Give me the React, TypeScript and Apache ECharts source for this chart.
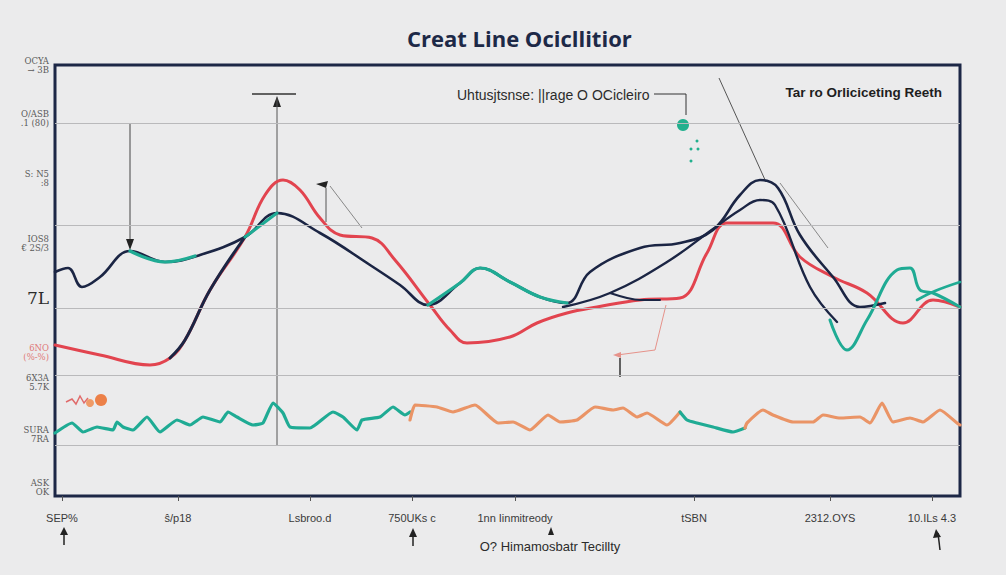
import React, { useEffect, useRef } from "react";
import * as echarts from "echarts";

const TITLE = "Creat Line Ocicllitior";
const ANNOT_LEFT = "Uhtusjtsnse: ||rage O OCicleiro";
const ANNOT_RIGHT = "Tar ro Orliciceting Reeth";
const X_TITLE = "O? Himamosbatr Tecillty";

const xTickValues = [7, 123, 255, 357, 460, 639, 775, 877];
const xTickLabels = ["SEP%", "ŝ/p18", "Lsbroo.d", "750UKs c", "1nn Iinmitreody", "tSBN", "2312.OYS", "10.ILs 4.3"];
const yTickValues = [431, 378, 318, 253, 198, 144, 114, 62, 9];
const yTickLabels = ["OCYA\n→ 3B", "O/ASB\n.1 (80)", "S: N5\n:8", "IOS8\n€ 2S/3", "7L", "6NO\n(%-%)", "6X3A\n5.7K", "SURA\n7RA", "ASK\nOK"];
const gridLevels = [373, 271, 188, 121, 51];

// main navy signal line
const navyA = [
  [0, 224], [13, 228], [27, 209], [45, 219], [75, 245], [110, 234], [145, 241], [190, 259], [222, 283],
  [265, 263], [315, 231], [345, 211], [373, 191], [405, 213], [425, 228], [455, 214], [485, 199], [512, 193],
  [535, 224], [585, 248], [625, 253], [658, 266], [685, 301], [705, 316], [723, 308], [745, 261], [778, 219],
  [805, 189], [830, 193],
];
// teal segments overlaying the navy line
const tealSeg1 = [[75, 245], [110, 234], [140, 240]];
const tealSeg2 = [[190, 259], [222, 283]];
const tealSeg3 = [[373, 191], [405, 213], [425, 228], [455, 214], [485, 199], [512, 193]];
// red trigger line
const redLine = [
  [0, 151], [45, 141], [95, 131], [115, 138], [130, 156], [155, 206], [190, 259], [210, 301], [228, 316],
  [245, 306], [265, 278], [285, 261], [317, 258], [340, 236], [375, 191], [395, 166], [412, 153], [455, 159],
  [482, 173], [512, 183], [542, 189], [585, 196], [625, 198], [652, 243], [672, 273], [718, 273], [745, 239],
  [778, 219], [812, 203], [848, 173], [878, 196], [905, 189],
];
// navy overlay on the red rising part
const navyOnRed = [[115, 138], [130, 156], [155, 206], [190, 259]];
// second navy line (right)
const navyB = [[508, 189], [555, 203], [612, 234], [658, 267], [685, 286], [705, 296], [720, 291], [755, 209], [782, 174]];
const navyFlat = [[555, 203], [585, 196], [605, 196]];
// teal right swing
const tealRight = [[775, 176], [792, 146], [812, 176], [842, 226], [855, 228], [865, 206], [878, 203], [905, 189]];
const tealRight2 = [[862, 196], [880, 205], [905, 214]];

// bottom oscillator
const oscTeal1 = [
  [0, 63], [17, 73], [28, 64], [42, 69], [58, 66], [62, 74], [68, 69], [78, 66], [92, 79], [105, 64], [122, 76],
  [135, 71], [148, 79], [165, 74], [173, 84], [182, 79], [198, 71], [208, 73], [218, 93], [228, 83], [235, 69],
  [255, 68], [278, 84], [288, 79], [302, 66], [307, 76], [325, 79], [338, 89], [350, 81], [355, 84],
];
const oscOrange1 = [
  [355, 76], [360, 91], [382, 89], [398, 84], [420, 91], [443, 73], [458, 74], [475, 66], [493, 81], [505, 74],
  [522, 76], [540, 89], [558, 86], [568, 88], [582, 79], [592, 83], [612, 71], [625, 84],
];
const oscTeal2 = [[625, 84], [632, 76], [642, 73], [658, 69], [678, 64], [690, 68]];
const oscOrange2 = [
  [690, 68], [692, 73], [708, 86], [718, 81], [738, 74], [758, 74], [768, 81], [785, 78], [805, 79], [815, 73],
  [827, 93], [838, 74], [855, 78], [868, 74], [885, 86], [902, 73], [905, 71],
];

const NAVY = "#1b2544";
const RED = "#e2444f";
const TEAL = "#1fab94";
const ORANGE = "#ea9466";

function line(name: string, data: number[][], color: string, width = 3, smooth: number | boolean = 0.4, z = 2) {
  return {
    name,
    type: "line",
    data,
    showSymbol: false,
    smooth,
    z,
    lineStyle: { color, width, cap: "round", join: "round" },
    itemStyle: { color },
    silent: true,
  };
}

export default function App() {
  const ref = useRef<HTMLDivElement>(null);
  useEffect(() => {
    if (!ref.current) return;
    const chart = echarts.init(ref.current, undefined, { renderer: "svg" });
    const gridSeries: any = line("grid", [], "#bbb", 1);
    gridSeries.markLine = {
      silent: true,
      symbol: "none",
      label: { show: false },
      lineStyle: { color: "#b9b9bb", width: 1, type: "solid" },
      data: gridLevels.map((v) => ({ yAxis: v })),
    };
    gridSeries.z = 1;
    const tiny = { fontSize: 8.5, color: "#5a5a5a", fontFamily: "DejaVu Serif", lineHeight: 9 };
    chart.setOption({
      animation: false,
      backgroundColor: "#ebebec",
      title: {
        text: TITLE,
        left: 402,
        top: 22,
        textStyle: { fontSize: 22, fontWeight: "bold", color: "#1d2947", fontFamily: "Open Sans" },
      },
      grid: {
        left: 55,
        right: 46,
        top: 65,
        bottom: 79,
        show: true,
        borderColor: "#1c2746",
        borderWidth: 3,
        backgroundColor: "transparent",
      },
      xAxis: {
        type: "value",
        min: 0,
        max: 905,
        splitLine: { show: false },
        axisLine: { show: false },
        axisTick: { show: true, customValues: xTickValues, length: 5, lineStyle: { color: "#555" } },
        axisLabel: {
          customValues: xTickValues,
          margin: 16,
          color: "#3a3a3a",
          fontSize: 11,
          fontFamily: "Liberation Sans",
          formatter: (v: number) => xTickLabels[xTickValues.indexOf(v)] ?? "",
        },
      },
      yAxis: {
        type: "value",
        min: 0,
        max: 431,
        splitLine: { show: false },
        axisLine: { show: false },
        axisTick: { show: false },
        axisLabel: {
          customValues: yTickValues,
          margin: 6,
          formatter: (v: number) => {
            const i = yTickValues.indexOf(v);
            const t = yTickLabels[i] ?? "";
            if (t === "7L") return "{big|7L}";
            if (i === 5) return t.split("\n").map((s) => "{red|" + s + "}").join("\n");
            return t.split("\n").map((s) => "{sm|" + s + "}").join("\n");
          },
          rich: {
            sm: tiny,
            red: { ...tiny, color: "#e07a78" },
            big: { fontSize: 17, color: "#2a2a2a", fontFamily: "DejaVu Serif" },
          },
        },
      },
      series: [
        gridSeries,
        line("Trigger", redLine, RED, 3, 0.4, 2),
        line("Signal", navyA, NAVY, 2.6, 0.4, 3),
        line("SignalB", navyB, NAVY, 2.4, 0.4, 3),
        line("SignalFlat", navyFlat, NAVY, 2, 0.3, 3),
        line("NavyOnRed", navyOnRed, NAVY, 3, 0.4, 4),
        line("Teal1", tealSeg1, TEAL, 3.2, 0.4, 4),
        line("Teal2", tealSeg2, TEAL, 3, 0.4, 4),
        line("Teal3", tealSeg3, TEAL, 3.2, 0.4, 4),
        line("TealRight", tealRight, TEAL, 3, 0.4, 4),
        line("TealRight2", tealRight2, TEAL, 2.6, 0.4, 4),
        line("OscTeal1", oscTeal1, TEAL, 3.2, 0.15, 3),
        line("OscOrange1", oscOrange1, ORANGE, 3.2, 0.15, 3),
        line("OscTeal2", oscTeal2, TEAL, 3.2, 0.15, 3),
        line("OscOrange2", oscOrange2, ORANGE, 3.2, 0.15, 3),
      ],
      graphic: [
        // vertical pointer with T-bar
        { type: "line", shape: { x1: 277, y1: 98, x2: 277, y2: 445 }, style: { stroke: "#555", lineWidth: 1 }, z: 1 },
        { type: "line", shape: { x1: 252, y1: 94, x2: 296, y2: 94 }, style: { stroke: "#333", lineWidth: 1.5 } },
        { type: "polygon", shape: { points: [[277, 96], [273, 107], [281, 107]] }, style: { fill: "#222" } },
        // down arrow at left
        { type: "line", shape: { x1: 130, y1: 123, x2: 130, y2: 242 }, style: { stroke: "#444", lineWidth: 1 } },
        { type: "polygon", shape: { points: [[130, 250], [126, 239], [134, 239]] }, style: { fill: "#222" } },
        // annotations
        {
          type: "text",
          x: 457,
          y: 95,
          style: { text: ANNOT_LEFT, fill: "#2b2b2b", font: "14px 'Liberation Sans'", textVerticalAlign: "middle", verticalAlign: "middle" },
        },
        { type: "line", shape: { x1: 654, y1: 94, x2: 686, y2: 94 }, style: { stroke: "#333", lineWidth: 1 } },
        { type: "line", shape: { x1: 686, y1: 94, x2: 686, y2: 115 }, style: { stroke: "#333", lineWidth: 1 } },
        { type: "circle", shape: { cx: 683, cy: 125, r: 6 }, style: { fill: "#22b08e" } },
        { type: "circle", shape: { cx: 697, cy: 141, r: 1.5 }, style: { fill: "#22b08e" } },
        { type: "circle", shape: { cx: 691, cy: 149, r: 1.5 }, style: { fill: "#22b08e" } },
        { type: "circle", shape: { cx: 698, cy: 149, r: 1.5 }, style: { fill: "#22b08e" } },
        { type: "circle", shape: { cx: 691, cy: 161, r: 1.5 }, style: { fill: "#22b08e" } },
        {
          type: "text",
          x: 942,
          y: 92,
          style: { text: ANNOT_RIGHT, fill: "#1e1e1e", font: "bold 13.5px 'Liberation Sans'", align: "right", textAlign: "right", verticalAlign: "middle", textVerticalAlign: "middle" },
        },
        // thin diagonal leaders
        { type: "line", shape: { x1: 719, y1: 78, x2: 766, y2: 182 }, style: { stroke: "#555", lineWidth: 1 } },
        { type: "line", shape: { x1: 780, y1: 183, x2: 828, y2: 248 }, style: { stroke: "#888", lineWidth: 1 } },
        { type: "line", shape: { x1: 330, y1: 186, x2: 362, y2: 228 }, style: { stroke: "#888", lineWidth: 1 } },
        { type: "line", shape: { x1: 326, y1: 188, x2: 326, y2: 222 }, style: { stroke: "#555", lineWidth: 1 } },
        { type: "polygon", shape: { points: [[316, 184], [328, 181], [326, 188]] }, style: { fill: "#222" } },
        { type: "polyline", shape: { points: [[666, 305], [655, 350], [617, 355]] }, style: { stroke: "#e6928a", lineWidth: 1, fill: null } },
        { type: "polygon", shape: { points: [[613, 355], [621, 352], [621, 358]] }, style: { fill: "#e6928a" } },
        { type: "line", shape: { x1: 620, y1: 358, x2: 620, y2: 377 }, style: { stroke: "#333", lineWidth: 1.5 } },
        // bottom-left markers
        { type: "polyline", shape: { points: [[66, 402], [72, 399], [76, 404], [80, 396], [84, 403], [88, 398]] }, style: { stroke: "#e06a6a", lineWidth: 1.5, fill: null } },
        { type: "circle", shape: { cx: 90, cy: 403, r: 4 }, style: { fill: "#ef9a66" } },
        { type: "circle", shape: { cx: 101, cy: 400, r: 6 }, style: { fill: "#ec8048" } },
        // bottom arrows
        { type: "line", shape: { x1: 64, y1: 530, x2: 64, y2: 545 }, style: { stroke: "#222", lineWidth: 1.5 } },
        { type: "polygon", shape: { points: [[64, 527], [60, 535], [68, 535]] }, style: { fill: "#222" } },
        { type: "line", shape: { x1: 413, y1: 532, x2: 413, y2: 546 }, style: { stroke: "#222", lineWidth: 1.5 } },
        { type: "polygon", shape: { points: [[413, 528], [409, 537], [417, 537]] }, style: { fill: "#222" } },
        { type: "polygon", shape: { points: [[551, 527], [548, 535], [554, 535]] }, style: { fill: "#222" } },
        { type: "line", shape: { x1: 938, y1: 533, x2: 940, y2: 550 }, style: { stroke: "#222", lineWidth: 1.5 } },
        { type: "polygon", shape: { points: [[936, 529], [933, 538], [941, 537]] }, style: { fill: "#222" } },
        {
          type: "text",
          x: 550,
          y: 546,
          style: { text: X_TITLE, fill: "#2b2b2b", font: "13px 'Liberation Sans'", align: "center", textAlign: "center", verticalAlign: "middle", textVerticalAlign: "middle" },
        },
      ],
    });
    return () => chart.dispose();
  }, []);
  return (
    <div
      ref={ref}
      style={{ position: "absolute", left: 0, top: 0, width: 1006, height: 575, background: "#ebebec" }}
    />
  );
}
